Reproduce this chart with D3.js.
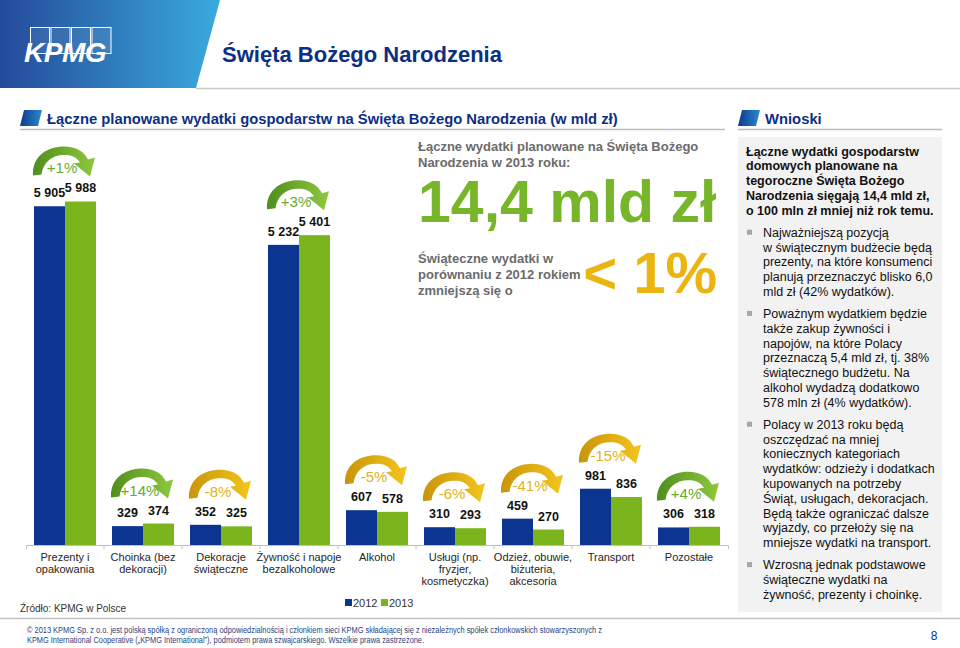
<!DOCTYPE html>
<html>
<head>
<meta charset="utf-8">
<script src="https://cdn.jsdelivr.net/npm/d3@7"></script>
<style>
  body { margin: 0; background: #fff; }
  svg { display: block; font-family: Arial, "Liberation Sans", sans-serif; }
</style>
</head>
<body>
<svg id="chart" width="960" height="648"></svg>
<script>
// chart data (mln zł)
const categories = ['Prezenty i\nopakowania', 'Choinka (bez\ndekoracji)', 'Dekoracje\nświąteczne',
  'Żywność i napoje\nbezalkoholowe', 'Alkohol', 'Usługi (np.\nfryzjer,\nkosmetyczka)',
  'Odzież, obuwie,\nbiżuteria,\nakcesoria', 'Transport', 'Pozostałe'];
const years = ['2012', '2013'];
const values2012 = [5905, 329, 352, 5232, 607, 310, 459, 981, 306];
const values2013 = [5988, 374, 325, 5401, 578, 293, 270, 836, 318];
const changes = ['+1%', '+14%', '-8%', '+3%', '-5%', '-6%', '-41%', '-15%', '+4%'];

const conclusionsLead = ['Łączne wydatki gospodarstw', 'domowych planowane na', 'tegoroczne Święta Bożego',
  'Narodzenia sięgają 14,4 mld zł,', 'o 100 mln zł mniej niż rok temu.'];
const conclusionsBullets = [
  ['Najważniejszą pozycją', 'w świątecznym budżecie będą', 'prezenty, na które konsumenci',
   'planują przeznaczyć blisko 6,0', 'mld zł (42% wydatków).'],
  ['Poważnym wydatkiem będzie', 'także zakup żywności i', 'napojów, na które Polacy',
   'przeznaczą 5,4 mld zł, tj. 38%', 'świątecznego budżetu. Na', 'alkohol wydadzą dodatkowo',
   '578 mln zł (4% wydatków).'],
  ['Polacy w 2013 roku będą', 'oszczędzać na mniej', 'koniecznych kategoriach',
   'wydatków: odzieży i dodatkach', 'kupowanych na potrzeby', 'Świąt, usługach, dekoracjach.',
   'Będą także ograniczać dalsze', 'wyjazdy, co przełoży się na', 'mniejsze wydatki na transport.'],
  ['Wzrosną jednak podstawowe', 'świąteczne wydatki na', 'żywność, prezenty i choinkę.']
];

const BLUE = '#0b3590', GREEN = '#7ab51d', NAVY = '#0d2f82', GOLD = '#ebb40f';
const svg = d3.select('#chart');
const defs = svg.append('defs');

function linGrad(id, c1, c2, x2, y2) {
  const g = defs.append('linearGradient').attr('id', id)
    .attr('x1', 0).attr('y1', 0).attr('x2', x2).attr('y2', y2);
  g.append('stop').attr('offset', '0%').attr('stop-color', c1);
  g.append('stop').attr('offset', '100%').attr('stop-color', c2);
}
linGrad('hdr', '#244a99', '#3aaade', 1, 0);
linGrad('icon', '#0b3a8c', '#2a8ad0', 1, 0);
linGrad('arrUp', '#4f8e1c', '#8fc83e', 1, 0);
linGrad('arrDown', '#c8950b', '#f3c51d', 1, 0);

/* header */
svg.append('path').attr('d', 'M0,0 L220,0 L196,88 L0,88 Z').attr('fill', 'url(#hdr)');
svg.append('line').attr('x1', 196).attr('x2', 960).attr('y1', 88.5).attr('y2', 88.5)
  .attr('stroke', '#c9c9c9').attr('stroke-width', 1.5);
for (let i = 0; i < 4; i++) {
  svg.append('rect').attr('x', 30.5 + i * 20.5).attr('y', 27.5).attr('width', 19).attr('height', 26)
    .attr('fill', 'rgba(255,255,255,0.07)').attr('stroke', '#fff').attr('stroke-width', 1);
}
svg.append('text').attr('x', 24).attr('y', 62).attr('fill', '#fff')
  .style('font-size', '28px').style('font-weight', 'bold').style('font-style', 'italic')
  .style('letter-spacing', '-0.5px').text('KPMG');
svg.append('text').attr('x', 222).attr('y', 62).attr('fill', NAVY)
  .style('font-size', '22px').style('font-weight', 'bold').text('Święta Bożego Narodzenia');

/* section headers */
function sectionHeader(x, x2, label) {
  svg.append('path').attr('d', `M${x + 4},110 L${x + 22},110 L${x + 18},126 L${x},126 Z`).attr('fill', 'url(#icon)');
  svg.append('text').attr('x', x + 27).attr('y', 124).attr('fill', NAVY)
    .style('font-size', '14.8px').style('font-weight', 'bold').text(label);
  svg.append('line').attr('x1', x).attr('x2', x2).attr('y1', 129.5).attr('y2', 129.5)
    .attr('stroke', '#bdbdbd').attr('stroke-width', 1.5);
}
sectionHeader(20, 725, 'Łączne planowane wydatki gospodarstw na Święta Bożego Narodzenia (w mld zł)');
sectionHeader(738, 942, 'Wnioski');

/* middle headline */
const grey = '#6b6b6b';
[['Łączne wydatki planowane na Święta Bożego', 151], ['Narodzenia w 2013 roku:', 167],
 ['Świąteczne wydatki w', 263], ['porównaniu z 2012 rokiem', 279], ['zmniejszą się o', 295]]
  .forEach(([t, yy]) => {
    svg.append('text').attr('x', 418).attr('y', yy).attr('fill', grey)
      .style('font-size', '13px').style('font-weight', 'bold').text(t);
  });
svg.append('text').attr('x', 418).attr('y', 222).attr('fill', '#77b52a')
  .style('font-size', '59px').style('font-weight', 'bold').text('14,4 mld zł');
svg.append('text').attr('x', 717).attr('y', 293).attr('fill', GOLD).attr('text-anchor', 'end')
  .style('font-size', '58px').style('font-weight', 'bold').text('< 1%');

/* grouped bars */
const x = d3.scaleBand().domain(categories).range([26, 728]);
const x1 = d3.scaleBand().domain(years).range([8, 70]);
const y = d3.scaleLinear().domain([0, 6000]).range([545, 200.8]);
const fmt = v => d3.format(',')(v).replace(/,/g, ' ');

const rows = categories.map((c, i) => ({ cat: c, vals: [values2012[i], values2013[i]], change: changes[i] }));

const groups = svg.append('g').selectAll('g').data(rows).join('g')
  .attr('transform', d => `translate(${x(d.cat)},0)`);

groups.selectAll('rect').data(d => d.vals.map((v, j) => ({ year: years[j], v }))).join('rect')
  .attr('x', d => x1(d.year)).attr('width', x1.bandwidth())
  .attr('y', d => y(d.v)).attr('height', d => y(0) - y(d.v))
  .attr('fill', d => d.year === '2012' ? BLUE : GREEN);

groups.selectAll('text.val').data(d => d.vals.map((v, j) => ({ year: years[j], v }))).join('text')
  .attr('class', 'val')
  .attr('x', d => x1(d.year) + x1.bandwidth() / 2).attr('y', d => y(d.v) - 9)
  .attr('text-anchor', 'middle').style('font-size', '12.5px').style('font-weight', 'bold')
  .attr('fill', '#111').text(d => fmt(d.v));

// curved change arrows
const arrowPath = 'M-32,28 C-33,8 -17,-1 -1,-1 C11,-1 19,4 23,12 L30,10 L25,29 L9,16 L15,15 ' +
  'C11,9 6,7.5 -1,7.5 C-13,7.5 -22,15 -23.5,27 Z';
const arrows = groups.append('g')
  .attr('transform', d => `translate(${x.bandwidth() / 2},${y(d3.max(d.vals)) - 54})`);
arrows.append('path').attr('d', arrowPath)
  .attr('fill', d => d.change[0] === '+' ? 'url(#arrUp)' : 'url(#arrDown)');
arrows.append('text').attr('x', -3).attr('y', 26).attr('text-anchor', 'middle')
  .style('font-size', '15px')
  .attr('fill', d => d.change[0] === '+' ? '#6aaa2c' : '#e2b21c').text(d => d.change);

/* axis */
const axis = svg.append('g').attr('transform', 'translate(0,545)')
  .call(d3.axisBottom(x).tickSizeInner(0).tickSizeOuter(4).tickFormat(''));
axis.select('.domain').attr('stroke', '#bfbfbf');
axis.selectAll('.tick').remove();
axis.selectAll('line.sep').data(categories.slice(1)).join('line').attr('class', 'sep')
  .attr('x1', d => x(d)).attr('x2', d => x(d)).attr('y1', 0).attr('y2', 4).attr('stroke', '#bfbfbf');

const catLabels = svg.append('g').selectAll('text').data(categories).join('text')
  .attr('text-anchor', 'middle').style('font-size', '11px').attr('fill', '#262626');
catLabels.selectAll('tspan').data(d => d.split('\n').map(t => ({ t, c: d }))).join('tspan')
  .attr('x', d => x(d.c) + x.bandwidth() / 2)
  .attr('y', (d, i) => 561 + i * 12).text(d => d.t);

/* legend */
const legend = svg.append('g').attr('transform', 'translate(345,599)');
years.forEach((yr, i) => {
  legend.append('rect').attr('x', i * 36).attr('y', 0).attr('width', 7).attr('height', 7)
    .attr('fill', i === 0 ? BLUE : GREEN);
  legend.append('text').attr('x', i * 36 + 8).attr('y', 8).style('font-size', '11px')
    .attr('fill', '#333').text(yr);
});

svg.append('text').attr('x', 20).attr('y', 612).style('font-size', '10px').attr('fill', '#333')
  .text('Źródło: KPMG w Polsce');

/* conclusions box */
svg.append('rect').attr('x', 738).attr('y', 137).attr('width', 204).attr('height', 475).attr('fill', '#f2f2f2');
let ty = 155.5;
const LH = 14.8, GAP = 7.2;
conclusionsLead.forEach(t => {
  svg.append('text').attr('x', 746).attr('y', ty).style('font-size', '12.5px').style('font-weight', 'bold')
    .attr('fill', '#111').text(t);
  ty += LH;
});
conclusionsBullets.forEach(lines => {
  ty += GAP;
  svg.append('rect').attr('x', 747).attr('y', ty - 7).attr('width', 5).attr('height', 5).attr('fill', '#a6a6a6');
  lines.forEach(t => {
    svg.append('text').attr('x', 763).attr('y', ty).style('font-size', '12.5px')
      .attr('fill', '#111').text(t);
    ty += LH;
  });
});

/* footer */
svg.append('line').attr('x1', 0).attr('x2', 960).attr('y1', 618.5).attr('y2', 618.5)
  .attr('stroke', '#c4c4c4').attr('stroke-width', 1.5);
const footFont = '"Liberation Sans Narrow", "Arial Narrow", Arial, sans-serif';
svg.append('text').attr('x', 27).attr('y', 633).style('font-family', footFont).style('font-size', '8.5px')
  .attr('fill', '#2b3f7c').attr('textLength', 575).attr('lengthAdjust', 'spacingAndGlyphs')
  .text('© 2013 KPMG Sp. z o.o. jest polską spółką z ograniczoną odpowiedzialnością i członkiem sieci KPMG składającej się z niezależnych spółek członkowskich stowarzyszonych z');
svg.append('text').attr('x', 27).attr('y', 643).style('font-family', footFont).style('font-size', '8.5px')
  .attr('fill', '#2b3f7c').attr('textLength', 397).attr('lengthAdjust', 'spacingAndGlyphs')
  .text('KPMG International Cooperative („KPMG International”), podmiotem prawa szwajcarskiego. Wszelkie prawa zastrzeżone.');
svg.append('text').attr('x', 934).attr('y', 640).attr('text-anchor', 'middle').style('font-size', '12px')
  .attr('fill', NAVY).text('8');
</script>
</body>
</html>
